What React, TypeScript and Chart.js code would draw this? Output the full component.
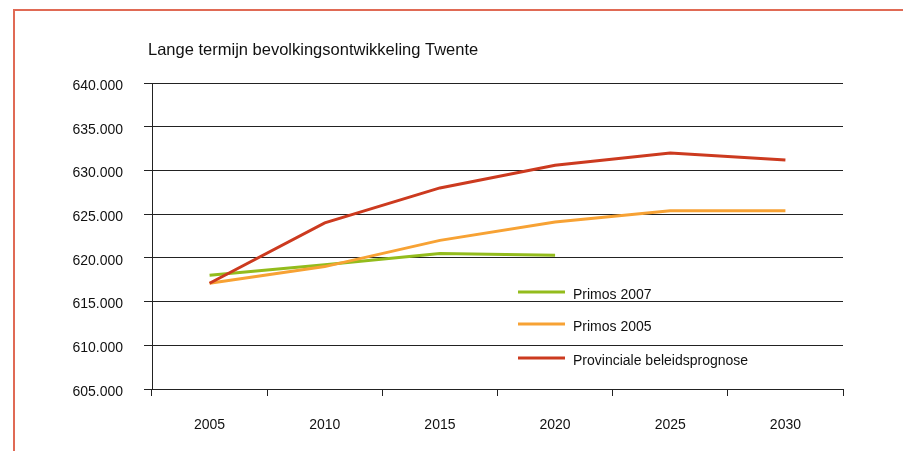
import React, { useEffect, useRef } from "react";
import { Chart, registerables } from "chart.js";

Chart.register(...registerables);

const TITLE = "Lange termijn bevolkingsontwikkeling Twente";
const categories = ["2005", "2010", "2015", "2020", "2025", "2030"];
const primos2007 = [618000, 619200, 620500, 620300, null, null];
const primos2005 = [617100, 619000, 622000, 624100, 625400, 625400];
const provinciale = [617100, 624000, 628000, 630600, 632000, 631200];
const seriesNames = ["Primos 2007", "Primos 2005", "Provinciale beleidsprognose"];
const seriesColors = ["#93bc1c", "#f7a234", "#cc3a1f"];
const yMin = 605000;
const yMax = 640000;
const yStep = 5000;

const FONT = "'Liberation Sans', Arial, sans-serif";

const fmt = (v: number) => String(v).replace(/\B(?=(\d{3})+(?!\d))/g, ".");

const overlayPlugin = {
  id: "overlay",
  afterDraw(chart: any) {
    const ctx = chart.ctx;
    const a = chart.chartArea;
    ctx.save();
    // title
    ctx.fillStyle = "#111";
    ctx.font = `16.5px ${FONT}`;
    ctx.textBaseline = "alphabetic";
    ctx.textAlign = "left";
    ctx.fillText(TITLE, a.left - 4, a.top - 28);
    // legend
    const offs = [209, 241, 275];
    ctx.font = `14px ${FONT}`;
    ctx.textBaseline = "middle";
    seriesNames.forEach((name, i) => {
      const y = a.top + offs[i];
      ctx.strokeStyle = seriesColors[i];
      ctx.lineWidth = 3;
      ctx.beginPath();
      ctx.moveTo(a.left + 366, y);
      ctx.lineTo(a.left + 413, y);
      ctx.stroke();
      ctx.fillStyle = "#111";
      ctx.fillText(name, a.left + 421, y + 3);
    });
    ctx.restore();
  },
};

export default function App() {
  const ref = useRef<HTMLCanvasElement>(null);
  useEffect(() => {
    if (!ref.current) return;
    const chart = new Chart(ref.current, {
      type: "line",
      data: {
        labels: categories,
        datasets: [
          { label: seriesNames[2], data: provinciale, borderColor: seriesColors[2], order: 1 },
          { label: seriesNames[1], data: primos2005, borderColor: seriesColors[1], order: 2 },
          { label: seriesNames[0], data: primos2007, borderColor: seriesColors[0], order: 3 },
        ].map((d) => ({
          ...d,
          borderWidth: 3,
          pointRadius: 0,
          tension: 0,
          fill: false,
          spanGaps: false,
          borderCapStyle: "butt" as const,
        })),
      },
      options: {
        responsive: false,
        animation: false,
        events: [],
        layout: { padding: { left: 0, top: 83, right: 60, bottom: 0 } },
        plugins: { legend: { display: false }, title: { display: false }, tooltip: { enabled: false } },
        scales: {
          x: {
            offset: true,
            grid: { offset: true, drawOnChartArea: false, drawTicks: true, tickLength: 7, color: "#222" },
            border: { display: true, color: "#222", width: 1 },
            ticks: { color: "#111", font: { family: FONT, size: 14 }, padding: 21, maxRotation: 0 },
            afterFit: (s: any) => {
              s.height = 62;
            },
          },
          y: {
            min: yMin,
            max: yMax,
            grid: { color: "#222", tickLength: 8, drawTicks: true },
            border: { display: true, color: "#222", width: 1 },
            ticks: {
              stepSize: yStep,
              color: "#111",
              font: { family: FONT, size: 14 },
              padding: 21,
              labelOffset: 3,
              callback: (v: any) => fmt(Number(v)),
            },
            afterFit: (s: any) => {
              s.width = 152;
            },
          },
        },
      },
      plugins: [overlayPlugin],
    });
    return () => chart.destroy();
  }, []);

  return (
    <div style={{ position: "absolute", left: 0, top: 0, width: 903, height: 451, overflow: "hidden", background: "#fff" }}>
      <div
        style={{
          position: "absolute",
          left: 13,
          top: 9,
          width: 1200,
          height: 1200,
          borderTop: "2px solid #e06a55",
          borderLeft: "2px solid #e06a55",
        }}
      />
      <canvas ref={ref} width={903} height={451} style={{ position: "absolute", left: 0, top: 0, width: 903, height: 451 }} />
    </div>
  );
}
